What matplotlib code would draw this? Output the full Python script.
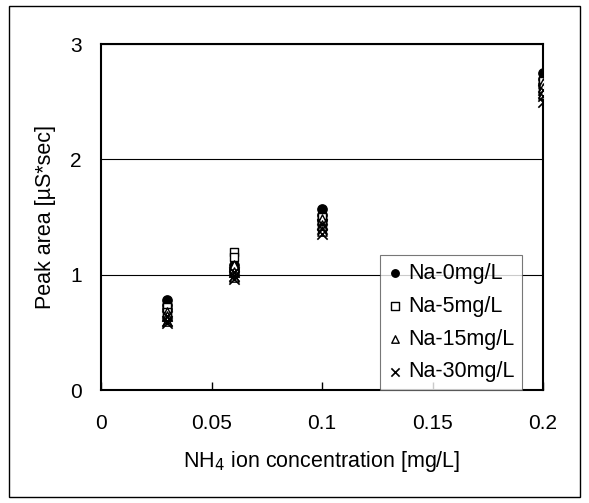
import matplotlib
matplotlib.use("Agg")
import matplotlib.pyplot as plt
from matplotlib.patches import Rectangle

plt.rcParams['font.family'] = ['Liberation Sans', 'DejaVu Sans']

conc = [0.03, 0.03, 0.03, 0.06, 0.06, 0.06, 0.1, 0.1, 0.1, 0.2, 0.2, 0.2]
na0 = [0.78, 0.74, 0.70, 1.08, 1.05, 1.02, 1.57, 1.52, 1.47, 2.75, 2.70, 2.65]
na5 = [0.72, 0.68, 0.64, 1.20, 1.15, 1.05, 1.50, 1.45, 1.40, 2.68, 2.63, 2.58]
na15 = [0.68, 0.64, 0.60, 1.08, 1.02, 0.98, 1.48, 1.43, 1.38, 2.66, 2.62, 2.57]
na30 = [0.64, 0.60, 0.58, 1.02, 0.99, 0.96, 1.44, 1.40, 1.35, 2.60, 2.55, 2.50]
labels = ['Na-0mg/L', 'Na-5mg/L', 'Na-15mg/L', 'Na-30mg/L']
xticks = [0, 0.05, 0.1, 0.15, 0.2]
yticks = [0, 1, 2, 3]

fig = plt.figure(figsize=(5.89, 5.03), dpi=100)
ax = fig.add_axes([101/589, 1-390/503, (543-101)/589, (390-44)/503])

ax.scatter(conc, na0, marker='o', s=45, facecolor='black', edgecolor='black', label=labels[0], zorder=3)
ax.scatter(conc, na5, marker='s', s=40, facecolor='white', edgecolor='black', linewidth=1, label=labels[1], zorder=3)
ax.scatter(conc, na15, marker='^', s=45, facecolor='white', edgecolor='black', linewidth=1, label=labels[2], zorder=3)
ax.scatter(conc, na30, marker='x', s=55, color='black', linewidth=1.2, label=labels[3], zorder=3)

ax.set_xlim(0, 0.2)
ax.set_ylim(0, 3)
ax.set_xticks(xticks)
ax.set_xticklabels(['0', '0.05', '0.1', '0.15', '0.2'])
ax.set_yticks(yticks)
ax.set_yticklabels(['0', '1', '2', '3'])
ax.tick_params(axis='x', direction='in', length=6, width=1, labelsize=15, pad=17)
ax.tick_params(axis='y', direction='in', length=0, labelsize=15, pad=14)
ax.grid(axis='y', color='black', linewidth=0.8)
ax.set_axisbelow(True)
for s in ax.spines.values():
    s.set_linewidth(1.5)

ax.set_xlabel('NH$_4$ ion concentration [mg/L]', fontsize=15.5, labelpad=12)
ax.set_ylabel('Peak area [µS*sec]', fontsize=15.5, labelpad=10)

leg = ax.legend(loc='lower right', bbox_to_anchor=(0.953, 0.0), fontsize=15.5, frameon=True,
                fancybox=False, edgecolor='#555555', handlelength=0.7, handletextpad=0.25,
                borderpad=0.35, labelspacing=0.55, borderaxespad=0, markerscale=0.8)
leg.get_frame().set_linewidth(0.8)

fig.patches.append(Rectangle((9/589, 1-497/503), (580-9)/589, (497-6)/503,
                             transform=fig.transFigure, fill=False, edgecolor='black', linewidth=1))

fig.savefig('out.png', dpi=100)
